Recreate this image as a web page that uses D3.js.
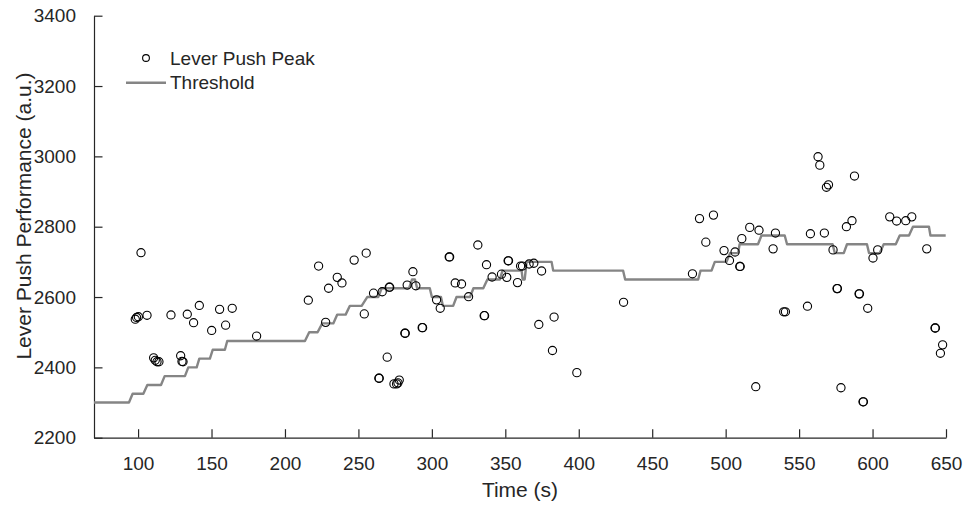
<!DOCTYPE html>
<html>
<head>
<meta charset="utf-8">
<script src="https://cdn.jsdelivr.net/npm/d3@7"></script>
<style>
  body { margin:0; background:#fff; }
  svg text { font-family:"Liberation Sans", Arial, Helvetica, sans-serif; fill:#262626; }
</style>
</head>
<body>
<div id="chart"></div>
<script>
// lever push peaks (time s, a.u.)
var peakTimes = [98.1, 99.0, 100.2, 102.0, 106.1, 110.6, 111.7, 112.9, 114.2, 122.4, 129.0, 129.9, 130.6,
    133.5, 137.8, 141.7, 150.1, 155.5, 159.6, 164.1, 180.7, 215.9, 222.9, 227.7, 229.7, 235.6, 238.8,
    247.1, 254.0, 255.3, 260.3, 263.9, 264.2, 266.2, 269.6, 271.0, 271.3, 274.2, 276.0, 276.9, 277.8,
    281.6, 281.9, 283.2, 287.1, 289.1, 293.4, 293.7, 303.2, 305.7, 311.8, 312.1, 315.9, 320.2, 325.0,
    331.3, 335.6, 335.9, 337.2, 341.0, 347.4, 351.0, 351.9, 352.2, 358.3, 360.4, 361.7, 366.2, 369.4,
    372.8, 374.7, 382.1, 383.2, 398.7, 430.5, 477.4, 482.2, 486.5, 491.7, 498.9, 502.6, 506.4, 509.6,
    509.9, 511.0, 516.4, 520.5, 522.7, 532.3, 533.9, 539.5, 540.7, 555.7, 557.7, 562.9, 564.1, 567.2,
    568.6, 570.0, 573.1, 575.8, 576.1, 578.5, 582.2, 586.0, 587.7, 590.8, 591.1, 593.5, 593.8, 596.7,
    600.3, 603.5, 611.7, 616.4, 622.6, 626.7, 636.9, 642.5, 642.8, 646.2, 647.7]
var peakValues = [2537, 2542, 2544, 2726, 2548, 2427, 2420, 2416, 2416, 2549, 2433, 2417, 2416,
    2551, 2527, 2576, 2505, 2565, 2520, 2568, 2489, 2591, 2688, 2528, 2625, 2656, 2640,
    2705, 2552, 2725, 2611, 2369, 2369, 2615, 2429, 2628, 2628, 2353, 2353, 2356, 2364,
    2497, 2497, 2634, 2672, 2632, 2513, 2513, 2592, 2568, 2714, 2714, 2640, 2637, 2601,
    2748, 2547, 2547, 2692, 2657, 2665, 2656, 2703, 2703, 2641, 2688, 2688, 2694, 2696,
    2522, 2674, 2448, 2543, 2385, 2585, 2666, 2823, 2756, 2833, 2732, 2704, 2728, 2687,
    2687, 2766, 2798, 2345, 2790, 2737, 2782, 2558, 2558, 2574, 2780, 2999, 2975, 2782,
    2912, 2919, 2734, 2624, 2624, 2342, 2800, 2817, 2944, 2609, 2609, 2302, 2302, 2568,
    2711, 2734, 2828, 2816, 2817, 2828, 2737, 2512, 2512, 2440, 2464]

// threshold trace (vertices)
var threshTimes = [70, 93.8, 96.3, 103.6, 106.3, 115.6, 118.1, 131.9, 134.2, 139.9, 141.7, 148.9, 150.8,
    159.1, 160.7, 213.6, 216.5, 222.2, 225.4, 232.9, 235.6, 241.3, 244.2, 252.2, 256.0, 263.5, 265.8,
    284.5, 286.5, 288.5, 290.0, 298.6, 300.0, 306.2, 307.5, 314.5, 316.8, 326.0, 328.3, 335.0, 337.8,
    346.3, 348.1, 361.1, 361.8, 363.2, 364.5, 381.5, 382.6, 430.2, 431.6, 481.3, 482.9, 490.4, 492.6,
    500.6, 503.0, 508.5, 509.5, 522.0, 524.4, 540.2, 541.8, 572.8, 574.3, 580.4, 582.6, 596.2, 597.6,
    604.9, 607.6, 615.8, 618.5, 624.8, 627.5, 638.4, 639.4, 649.8]
var threshValues = [2300, 2300, 2325, 2325, 2350, 2350, 2375, 2375, 2400, 2400, 2425, 2425, 2450,
    2450, 2475, 2475, 2500, 2500, 2525, 2525, 2550, 2550, 2575, 2575, 2600, 2600, 2625,
    2625, 2650, 2650, 2625, 2625, 2600, 2600, 2575, 2575, 2600, 2600, 2625, 2625, 2650,
    2650, 2675, 2675, 2650, 2650, 2700, 2700, 2675, 2675, 2650, 2650, 2675, 2675, 2700,
    2700, 2725, 2725, 2750, 2750, 2775, 2775, 2750, 2750, 2725, 2725, 2750, 2750, 2725,
    2725, 2750, 2750, 2775, 2775, 2800, 2800, 2775, 2775]

var xTicks = [100, 150, 200, 250, 300, 350, 400, 450, 500, 550, 600, 650]
var yTicks = [2200, 2400, 2600, 2800, 3000, 3200, 3400]
var legendLabels = ['Lever Push Peak', 'Threshold']

var W = 964, H = 506
var m = { top:15.7, right:18, bottom:68.3, left:94 }
var axisColor = '#262626'
var threshColor = '#858585'

var svg = d3.select('#chart').append('svg')
    .attr('width', W)
    .attr('height', H)

var x = d3.scaleLinear().domain([70, 650]).range([m.left, W-m.right])
var y = d3.scaleLinear().domain([2200, 3400]).range([H-m.bottom, m.top])

// axes, MATLAB style: ticks inside, no box
var xAxis = svg.append('g')
    .attr('transform', 'translate(0,' + (H-m.bottom) + ')')
    .call(d3.axisBottom(x).tickValues(xTicks).tickSizeInner(-8.5).tickSizeOuter(0).tickPadding(19))
var yAxis = svg.append('g')
    .attr('transform', 'translate(' + m.left + ',0)')
    .call(d3.axisLeft(y).tickValues(yTicks).tickFormat(d3.format('d')).tickSizeInner(-8.5).tickSizeOuter(0).tickPadding(18))

;[xAxis, yAxis].forEach(g=> {
    g.select('.domain').attr('stroke', axisColor).attr('stroke-width', 1.2)
    g.selectAll('.tick line').attr('stroke', axisColor).attr('stroke-width', 1.2)
    g.selectAll('.tick text')
        .attr('font-size', 19)
        .style('font-family', '"Liberation Sans", Arial, sans-serif')
        .attr('fill', axisColor)
})

svg.append('text')
    .attr('x', (m.left + W-m.right)/2)
    .attr('y', 497)
    .attr('text-anchor', 'middle')
    .attr('font-size', 21)
    .text('Time (s)')

svg.append('text')
    .attr('transform', 'translate(31,' + 216 + ') rotate(-90)')
    .attr('text-anchor', 'middle')
    .attr('font-size', 21)
    .text('Lever Push Performance (a.u.)')

// threshold
var threshData = threshTimes.map((t, i)=> ({ t:t, v:threshValues[i] }))
svg.append('path')
    .datum(threshData)
    .attr('fill', 'none')
    .attr('stroke', threshColor)
    .attr('stroke-width', 2.4)
    .attr('stroke-linejoin', 'round')
    .attr('d', d3.line().x(d=> x(d.t)).y(d=> y(d.v)))

// peaks
var peakData = peakTimes.map((t, i)=> ({ t:t, v:peakValues[i] }))
svg.append('g').selectAll('circle')
    .data(peakData)
    .join('circle')
    .attr('cx', d=> x(d.t))
    .attr('cy', d=> y(d.v))
    .attr('r', 4.1)
    .attr('fill', 'none')
    .attr('stroke', '#000')
    .attr('stroke-width', 1.1)

// legend
var lg = svg.append('g')
lg.append('circle')
    .attr('cx', 146).attr('cy', 58).attr('r', 3.4)
    .attr('fill', 'none').attr('stroke', '#000').attr('stroke-width', 1.1)
lg.append('line')
    .attr('x1', 126).attr('x2', 166).attr('y1', 82.7).attr('y2', 82.7)
    .attr('stroke', threshColor).attr('stroke-width', 2.4)
lg.selectAll('text.lbl')
    .data(legendLabels)
    .join('text')
    .attr('class', 'lbl')
    .attr('x', 170)
    .attr('y', (d, i)=> 65 + i*24)
    .attr('font-size', 19)
    .text(d=> d)
</script>
</body>
</html>
